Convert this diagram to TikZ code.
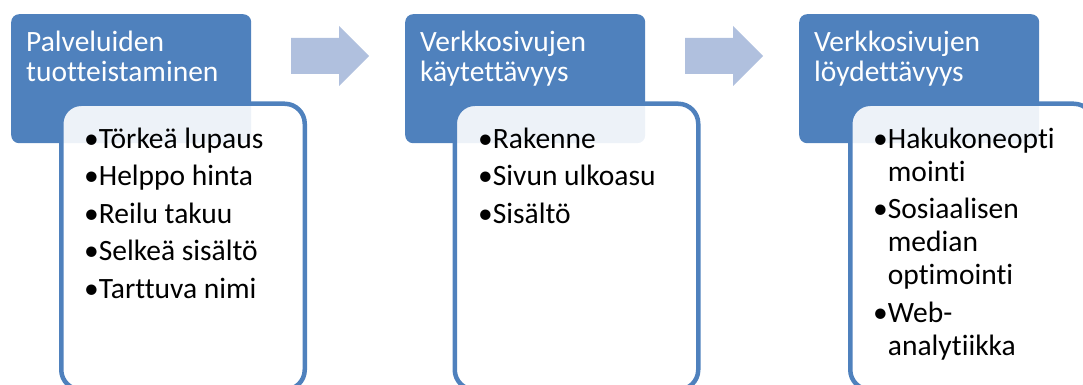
\documentclass[tikz,border=0pt]{standalone}
\usepackage{fontspec}
\setmainfont[Ligatures={NoCommon}]{Carlito}
\definecolor{accent}{RGB}{79,129,189}
\definecolor{arrowc}{RGB}{176,192,222}
\begin{document}
\begin{tikzpicture}[x=1pt,y=-1pt,
  header/.style={fill=accent, rounded corners=8pt, inner sep=0, anchor=north west, minimum width=240pt, minimum height=129pt},
  inbox/.style={draw=accent, line width=4.5pt, fill=white, fill opacity=0.9, rounded corners=20pt, inner sep=0, anchor=north west, minimum width=243.5pt, minimum height=286pt},
  flowarrow/.style={fill=arrowc},
  headtext/.style={anchor=base west, inner sep=0, text=white, font=\fontsize{29.5}{30}\selectfont},
  bullettext/.style={anchor=base west, inner sep=0, font=\fontsize{29.5}{33}\selectfont}]
\useasboundingbox (0,0) rectangle (1083,385);
\clip (0,0) rectangle (1083,385);
% headers
\node[header] (h1) at (11,14) {};
\node[header] (h2) at (405,14) {};
\node[header] (h3) at (799,14) {};
\node[headtext] (ht1) at (26,52) {\begin{tabular}[t]{@{}l@{}}Palveluiden\\tuotteistaminen\end{tabular}};
\node[headtext] (ht2) at (420,52) {\begin{tabular}[t]{@{}l@{}}Verkkosivujen\\käytettävyys\end{tabular}};
\node[headtext] (ht3) at (814,52) {\begin{tabular}[t]{@{}l@{}}Verkkosivujen\\löydettävyys\end{tabular}};
% arrows
\fill[flowarrow] (291,38) -- (339,38) -- (339,26) -- (369,56) -- (339,86) -- (339,74) -- (291,74) -- cycle;
\fill[flowarrow] (685,38) -- (733,38) -- (733,26) -- (763,56) -- (733,86) -- (733,74) -- (685,74) -- cycle;
% inner boxes
\node[inbox] (b1) at (59,101.5) {};
\node[inbox] (b2) at (452.5,101.5) {};
\node[inbox] (b3) at (848,101.5) {};
% bullet texts
\node[bullettext] (t1) at (84,148) {\begin{tabular}[t]{@{}l@{}l@{}}•&Törkeä lupaus\\[4.5pt]•&Helppo hinta\\[4.5pt]•&Reilu takuu\\[4.5pt]•&Selkeä sisältö\\[4.5pt]•&Tarttuva nimi\end{tabular}};
\node[bullettext] (t2) at (478,148) {\begin{tabular}[t]{@{}l@{}l@{}}•&Rakenne\\[4.5pt]•&Sivun ulkoasu\\[4.5pt]•&Sisältö\end{tabular}};
\node[bullettext] (t3) at (873,148) {\begin{tabular}[t]{@{}l@{}l@{}}•&Hakukoneopti\\&mointi\\[4.5pt]•&Sosiaalisen\\&median\\&optimointi\\[4.5pt]•&Web-\\&analytiikka\end{tabular}};
\end{tikzpicture}
\end{document}
